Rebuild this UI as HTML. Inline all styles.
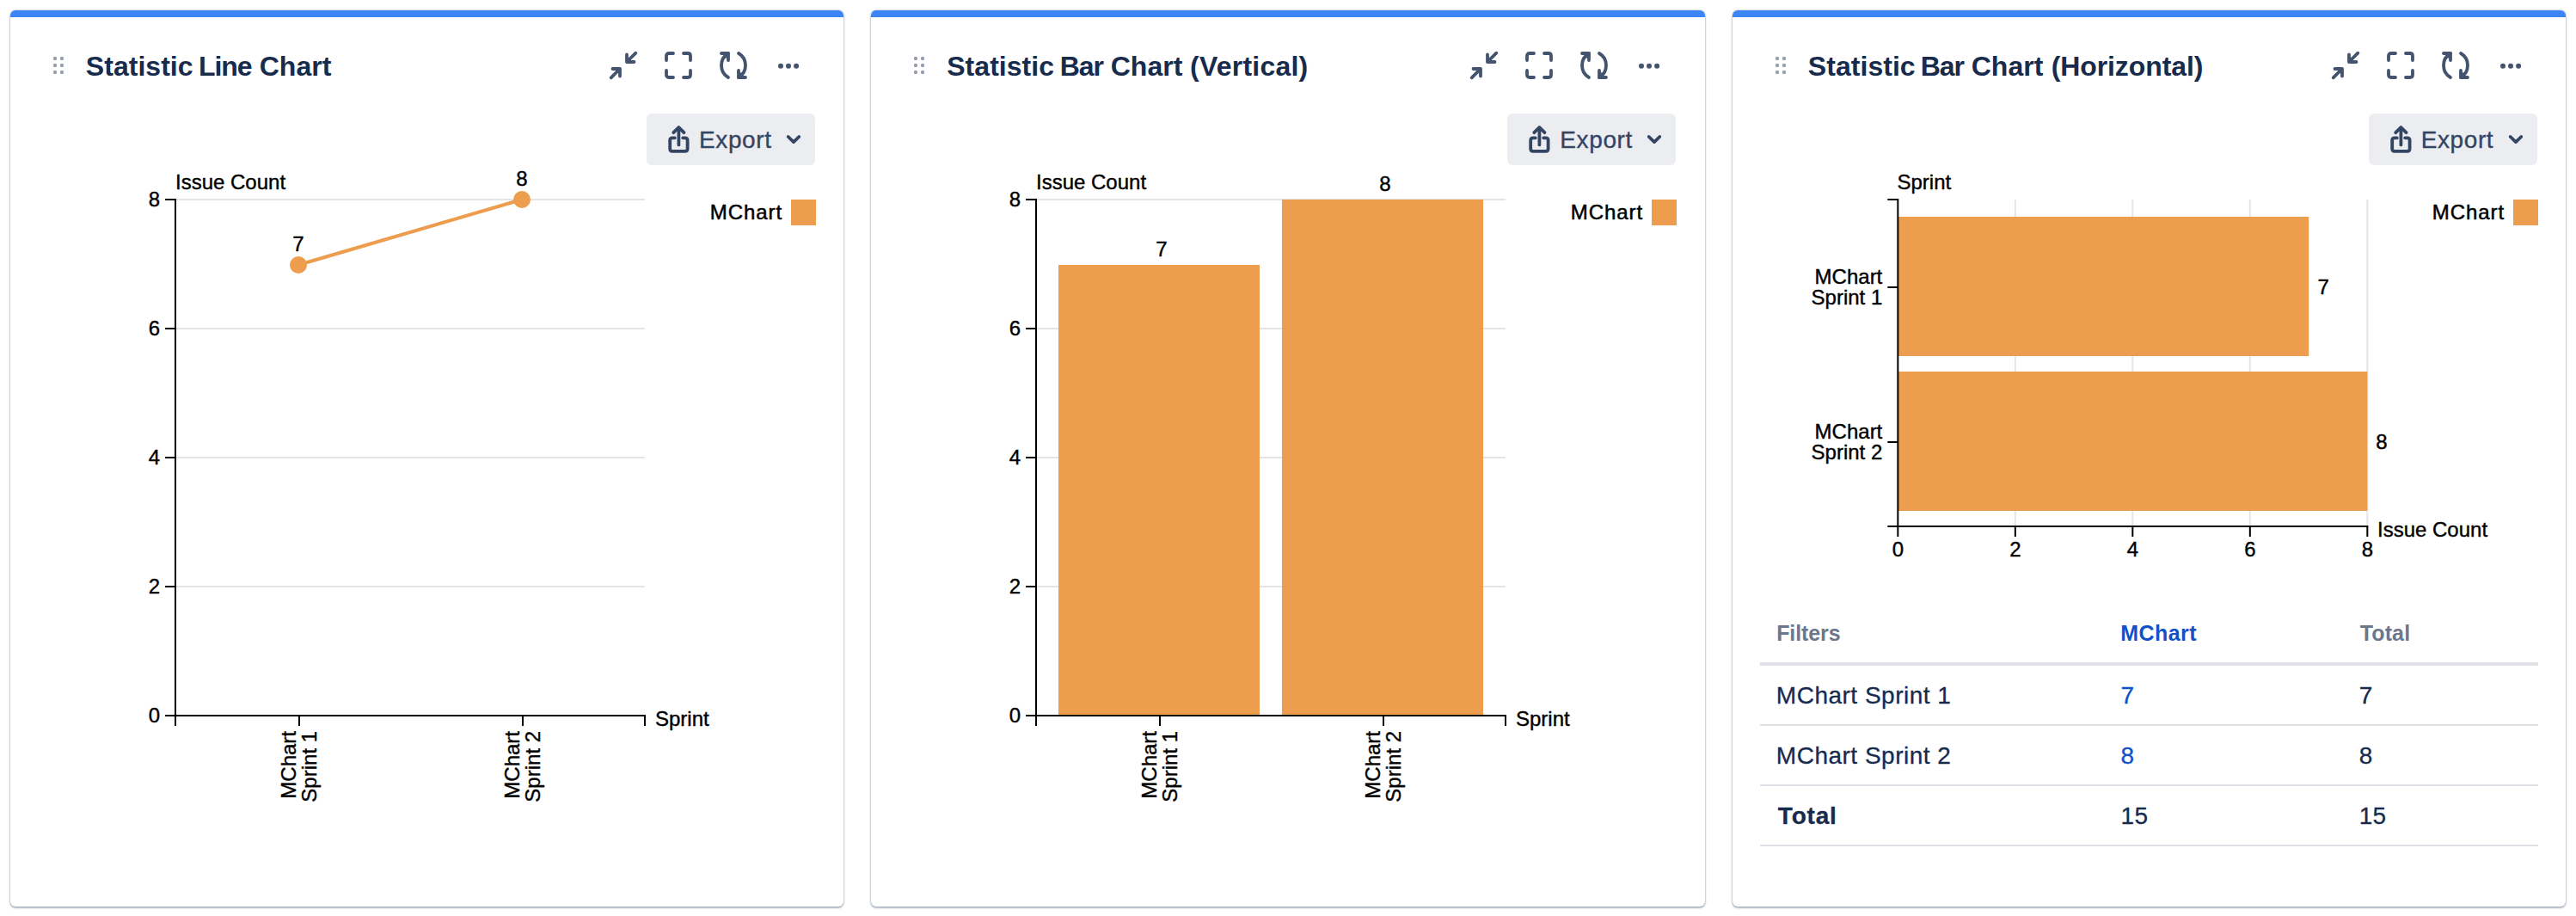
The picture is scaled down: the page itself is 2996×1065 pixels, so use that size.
<!DOCTYPE html><html><head><meta charset="utf-8"><title>Dashboard</title><style>
html,body{margin:0;padding:0;background:#fff;}
body{width:2996px;height:1065px;position:relative;overflow:hidden;font-family:"Liberation Sans",sans-serif;}
.card{position:absolute;top:12px;width:969.33px;height:1042px;background:#fff;border-radius:6px;box-shadow:0 2px 2px rgba(9,30,66,.25),0 0 2.5px rgba(9,30,66,.42);}
.bar{position:absolute;left:0;top:0;right:0;height:8px;background:#3D84F5;border-radius:6px 6px 0 0;}
.in{position:absolute;left:-12px;top:-12px;width:1000px;height:1065px;}
.title{position:absolute;left:0;top:56.6px;height:40px;line-height:40px;font-size:32px;font-weight:700;color:#172B4D;white-space:nowrap;}
.title span{position:absolute;top:0;}
.exp{position:absolute;left:752px;top:132px;width:196px;height:60px;background:#ECEDF1;border-radius:6px;}
.exp span{-webkit-text-stroke:.35px;position:absolute;left:61px;top:10.5px;height:40px;line-height:40px;font-size:28px;color:#344563;letter-spacing:.6px;}
svg{position:absolute;left:0;top:0;overflow:visible;}
svg text{font-family:"Liberation Sans",sans-serif;}
.ct text{font-size:24px;fill:#000;stroke:#000;stroke-width:.4px;}
.tb{position:absolute;-webkit-text-stroke:.3px;font-size:28px;line-height:40px;height:40px;color:#172B4D;white-space:nowrap;letter-spacing:.3px;}
.th{position:absolute;font-size:25px;line-height:32px;height:32px;font-weight:700;color:#6B778C;white-space:nowrap;letter-spacing:.2px;}
.ln{position:absolute;left:44.3px;width:905px;height:2px;background:#DFE1E6;}
.bl{color:#0F52C8;}
</style></head><body><div class="card" style="left:12.00px"><div class="bar"></div><div class="in"><div class="title"><span style="left:99.8px;letter-spacing:0.04px">Statistic</span> <span style="left:230.9px;letter-spacing:-1.03px">Line</span> <span style="left:301.7px;letter-spacing:0.07px">Chart</span></div><div class="exp"><span>Export</span></div><svg width="1000" height="1065" viewBox="0 0 1000 1065"><g fill="#97A0AF"><circle cx="64" cy="68" r="2.2"/><circle cx="64" cy="76" r="2.2"/><circle cx="64" cy="84" r="2.2"/><circle cx="72" cy="68" r="2.2"/><circle cx="72" cy="76" r="2.2"/><circle cx="72" cy="84" r="2.2"/></g><g transform="translate(709,60)" fill="none" stroke="#44546F" stroke-width="3.8" stroke-linecap="round" stroke-linejoin="round"><path d="M20 3.5V12H28.5M20 12L30.3 1.7"/><path d="M21.2 7.5V10.8H24.5Z" fill="#44546F" stroke-width="2"/><path d="M3.5 20H12V28.5M12 20L1.7 30.3"/><path d="M7.5 21.2H10.8V24.5Z" fill="#44546F" stroke-width="2"/></g><g transform="translate(773,60)" fill="none" stroke="#44546F" stroke-width="3.8" stroke-linecap="round" stroke-linejoin="round"><path d="M2 10V5Q2 2 5 2H10"/><path d="M22 2H27Q30 2 30 5V10"/><path d="M30 22V27Q30 30 27 30H22"/><path d="M10 30H5Q2 30 2 27V22"/></g><g transform="translate(837,60)" fill="none" stroke="#44546F" stroke-width="3.8" stroke-linecap="round" stroke-linejoin="round"><path d="M2 2H10V10"/><path d="M10 2A16.25 16.25 0 0 0 10 30"/><path d="M8.6 3.4V6.5H5.5Z" fill="#44546F" stroke-width="2"/><path d="M30 30H22V22"/><path d="M22 30A16.25 16.25 0 0 0 22 2"/><path d="M23.4 28.6V25.5H26.5Z" fill="#44546F" stroke-width="2"/></g><g fill="#44546F"><circle cx="908" cy="76.7" r="3"/><circle cx="917" cy="76.7" r="3"/><circle cx="926.1" cy="76.7" r="3"/></g><g transform="translate(777,145)" fill="none" stroke="#344563" stroke-width="3.8" stroke-linecap="round" stroke-linejoin="round"><path d="M7.8 15.3H5Q2.2 15.3 2.2 18V28Q2.2 30.8 5 30.8H19.8Q22.6 30.8 22.6 28V18Q22.6 15.3 19.8 15.3H17.2"/><path d="M12.4 23.4V3.2M6.3 9.2L12.4 3L18.5 9.2"/></g><path d="M916.7 159L923 165.1L929.3 159" fill="none" stroke="#344563" stroke-width="3.8" stroke-linecap="round" stroke-linejoin="round"/><rect x="920" y="232" width="29" height="30" fill="#ED9D4E"/><text x="910.1" y="255" text-anchor="end" style="font-size:24px;letter-spacing:.93px" fill="#000" stroke="#000" stroke-width=".5">MChart</text><g class="ct"><rect x="205" y="231" width="545" height="2" fill="#E5E5E5"/><rect x="205" y="381" width="545" height="2" fill="#E5E5E5"/><rect x="205" y="531" width="545" height="2" fill="#E5E5E5"/><rect x="205" y="681" width="545" height="2" fill="#E5E5E5"/><rect x="203" y="231" width="2" height="602" fill="#000"/><rect x="192" y="231" width="12" height="2" fill="#000"/><text x="186" y="239.8" text-anchor="end">8</text><rect x="192" y="381" width="12" height="2" fill="#000"/><text x="186" y="389.8" text-anchor="end">6</text><rect x="192" y="531" width="12" height="2" fill="#000"/><text x="186" y="539.8" text-anchor="end">4</text><rect x="192" y="681" width="12" height="2" fill="#000"/><text x="186" y="689.8" text-anchor="end">2</text><rect x="192" y="831" width="12" height="2" fill="#000"/><text x="186" y="839.8" text-anchor="end">0</text><rect x="203" y="831" width="548" height="2" fill="#000"/><rect x="203" y="832" width="2" height="12" fill="#000"/><rect x="347" y="832" width="2" height="12" fill="#000"/><rect x="607" y="832" width="2" height="12" fill="#000"/><rect x="749" y="832" width="2" height="12" fill="#000"/><text transform="translate(348,850) rotate(-90)" text-anchor="end"><tspan x="0" y="-3.7">MChart</tspan><tspan x="0" y="19.8">Sprint 1</tspan></text><text transform="translate(608,850) rotate(-90)" text-anchor="end"><tspan x="0" y="-3.7">MChart</tspan><tspan x="0" y="19.8">Sprint 2</tspan></text><text x="204" y="220">Issue Count</text><text x="762" y="844">Sprint</text><path d="M347 308L607 232" stroke="#ED9D4E" stroke-width="4" fill="none"/><circle cx="347" cy="308" r="10" fill="#ED9D4E"/><circle cx="607" cy="232" r="10" fill="#ED9D4E"/><text x="347" y="292" text-anchor="middle">7</text><text x="607" y="216" text-anchor="middle">8</text></g></svg></div></div><div class="card" style="left:1013.33px"><div class="bar"></div><div class="in"><div class="title"><span style="left:99.9px;letter-spacing:0.04px">Statistic</span> <span style="left:231.4px;letter-spacing:-1.1px">Bar</span> <span style="left:290.3px;letter-spacing:0.07px">Chart</span> <span style="left:382.7px;letter-spacing:0.23px">(Vertical)</span></div><div class="exp"><span>Export</span></div><svg width="1000" height="1065" viewBox="0 0 1000 1065"><g fill="#97A0AF"><circle cx="64" cy="68" r="2.2"/><circle cx="64" cy="76" r="2.2"/><circle cx="64" cy="84" r="2.2"/><circle cx="72" cy="68" r="2.2"/><circle cx="72" cy="76" r="2.2"/><circle cx="72" cy="84" r="2.2"/></g><g transform="translate(709,60)" fill="none" stroke="#44546F" stroke-width="3.8" stroke-linecap="round" stroke-linejoin="round"><path d="M20 3.5V12H28.5M20 12L30.3 1.7"/><path d="M21.2 7.5V10.8H24.5Z" fill="#44546F" stroke-width="2"/><path d="M3.5 20H12V28.5M12 20L1.7 30.3"/><path d="M7.5 21.2H10.8V24.5Z" fill="#44546F" stroke-width="2"/></g><g transform="translate(773,60)" fill="none" stroke="#44546F" stroke-width="3.8" stroke-linecap="round" stroke-linejoin="round"><path d="M2 10V5Q2 2 5 2H10"/><path d="M22 2H27Q30 2 30 5V10"/><path d="M30 22V27Q30 30 27 30H22"/><path d="M10 30H5Q2 30 2 27V22"/></g><g transform="translate(837,60)" fill="none" stroke="#44546F" stroke-width="3.8" stroke-linecap="round" stroke-linejoin="round"><path d="M2 2H10V10"/><path d="M10 2A16.25 16.25 0 0 0 10 30"/><path d="M8.6 3.4V6.5H5.5Z" fill="#44546F" stroke-width="2"/><path d="M30 30H22V22"/><path d="M22 30A16.25 16.25 0 0 0 22 2"/><path d="M23.4 28.6V25.5H26.5Z" fill="#44546F" stroke-width="2"/></g><g fill="#44546F"><circle cx="908" cy="76.7" r="3"/><circle cx="917" cy="76.7" r="3"/><circle cx="926.1" cy="76.7" r="3"/></g><g transform="translate(777,145)" fill="none" stroke="#344563" stroke-width="3.8" stroke-linecap="round" stroke-linejoin="round"><path d="M7.8 15.3H5Q2.2 15.3 2.2 18V28Q2.2 30.8 5 30.8H19.8Q22.6 30.8 22.6 28V18Q22.6 15.3 19.8 15.3H17.2"/><path d="M12.4 23.4V3.2M6.3 9.2L12.4 3L18.5 9.2"/></g><path d="M916.7 159L923 165.1L929.3 159" fill="none" stroke="#344563" stroke-width="3.8" stroke-linecap="round" stroke-linejoin="round"/><rect x="920" y="232" width="29" height="30" fill="#ED9D4E"/><text x="910.1" y="255" text-anchor="end" style="font-size:24px;letter-spacing:.93px" fill="#000" stroke="#000" stroke-width=".5">MChart</text><g class="ct"><rect x="205" y="231" width="545" height="2" fill="#E5E5E5"/><rect x="205" y="381" width="545" height="2" fill="#E5E5E5"/><rect x="205" y="531" width="545" height="2" fill="#E5E5E5"/><rect x="205" y="681" width="545" height="2" fill="#E5E5E5"/><rect x="230" y="308" width="234" height="524" fill="#ED9D4E"/><rect x="490" y="232" width="234" height="600" fill="#ED9D4E"/><rect x="203" y="231" width="2" height="602" fill="#000"/><rect x="192" y="231" width="12" height="2" fill="#000"/><text x="186" y="239.8" text-anchor="end">8</text><rect x="192" y="381" width="12" height="2" fill="#000"/><text x="186" y="389.8" text-anchor="end">6</text><rect x="192" y="531" width="12" height="2" fill="#000"/><text x="186" y="539.8" text-anchor="end">4</text><rect x="192" y="681" width="12" height="2" fill="#000"/><text x="186" y="689.8" text-anchor="end">2</text><rect x="192" y="831" width="12" height="2" fill="#000"/><text x="186" y="839.8" text-anchor="end">0</text><rect x="203" y="831" width="548" height="2" fill="#000"/><rect x="203" y="832" width="2" height="12" fill="#000"/><rect x="347" y="832" width="2" height="12" fill="#000"/><rect x="607" y="832" width="2" height="12" fill="#000"/><rect x="749" y="832" width="2" height="12" fill="#000"/><text transform="translate(348,850) rotate(-90)" text-anchor="end"><tspan x="0" y="-3.7">MChart</tspan><tspan x="0" y="19.8">Sprint 1</tspan></text><text transform="translate(608,850) rotate(-90)" text-anchor="end"><tspan x="0" y="-3.7">MChart</tspan><tspan x="0" y="19.8">Sprint 2</tspan></text><text x="204" y="220">Issue Count</text><text x="762" y="844">Sprint</text><text x="350" y="298" text-anchor="middle">7</text><text x="610" y="222" text-anchor="middle">8</text></g></svg></div></div><div class="card" style="left:2014.67px"><div class="bar"></div><div class="in"><div class="title"><span style="left:100.2px;letter-spacing:0.04px">Statistic</span> <span style="left:231.1px;letter-spacing:-1.1px">Bar</span> <span style="left:290px;letter-spacing:0.07px">Chart</span> <span style="left:383px;letter-spacing:-0.09px">(Horizontal)</span></div><div class="exp"><span>Export</span></div><svg width="1000" height="1065" viewBox="0 0 1000 1065"><g fill="#97A0AF"><circle cx="64" cy="68" r="2.2"/><circle cx="64" cy="76" r="2.2"/><circle cx="64" cy="84" r="2.2"/><circle cx="72" cy="68" r="2.2"/><circle cx="72" cy="76" r="2.2"/><circle cx="72" cy="84" r="2.2"/></g><g transform="translate(709,60)" fill="none" stroke="#44546F" stroke-width="3.8" stroke-linecap="round" stroke-linejoin="round"><path d="M20 3.5V12H28.5M20 12L30.3 1.7"/><path d="M21.2 7.5V10.8H24.5Z" fill="#44546F" stroke-width="2"/><path d="M3.5 20H12V28.5M12 20L1.7 30.3"/><path d="M7.5 21.2H10.8V24.5Z" fill="#44546F" stroke-width="2"/></g><g transform="translate(773,60)" fill="none" stroke="#44546F" stroke-width="3.8" stroke-linecap="round" stroke-linejoin="round"><path d="M2 10V5Q2 2 5 2H10"/><path d="M22 2H27Q30 2 30 5V10"/><path d="M30 22V27Q30 30 27 30H22"/><path d="M10 30H5Q2 30 2 27V22"/></g><g transform="translate(837,60)" fill="none" stroke="#44546F" stroke-width="3.8" stroke-linecap="round" stroke-linejoin="round"><path d="M2 2H10V10"/><path d="M10 2A16.25 16.25 0 0 0 10 30"/><path d="M8.6 3.4V6.5H5.5Z" fill="#44546F" stroke-width="2"/><path d="M30 30H22V22"/><path d="M22 30A16.25 16.25 0 0 0 22 2"/><path d="M23.4 28.6V25.5H26.5Z" fill="#44546F" stroke-width="2"/></g><g fill="#44546F"><circle cx="908" cy="76.7" r="3"/><circle cx="917" cy="76.7" r="3"/><circle cx="926.1" cy="76.7" r="3"/></g><g transform="translate(777,145)" fill="none" stroke="#344563" stroke-width="3.8" stroke-linecap="round" stroke-linejoin="round"><path d="M7.8 15.3H5Q2.2 15.3 2.2 18V28Q2.2 30.8 5 30.8H19.8Q22.6 30.8 22.6 28V18Q22.6 15.3 19.8 15.3H17.2"/><path d="M12.4 23.4V3.2M6.3 9.2L12.4 3L18.5 9.2"/></g><path d="M916.7 159L923 165.1L929.3 159" fill="none" stroke="#344563" stroke-width="3.8" stroke-linecap="round" stroke-linejoin="round"/><rect x="920" y="232" width="29" height="30" fill="#ED9D4E"/><text x="910.1" y="255" text-anchor="end" style="font-size:24px;letter-spacing:.93px" fill="#000" stroke="#000" stroke-width=".5">MChart</text><g class="ct"><rect x="339.83" y="232" width="2" height="380" fill="#E5E5E5"/><rect x="476.33" y="232" width="2" height="380" fill="#E5E5E5"/><rect x="612.83" y="232" width="2" height="380" fill="#E5E5E5"/><rect x="749.33" y="232" width="2" height="380" fill="#E5E5E5"/><rect x="205" y="252" width="477.2" height="162" fill="#ED9D4E"/><rect x="205" y="432" width="545.3" height="162" fill="#ED9D4E"/><rect x="203.33" y="231" width="2" height="382" fill="#000"/><rect x="192.33" y="231" width="12" height="2" fill="#000"/><rect x="192.33" y="611" width="12" height="2" fill="#000"/><rect x="192.33" y="333" width="12" height="2" fill="#000"/><text x="186.3" y="330" text-anchor="end">MChart</text><text x="186.3" y="354" text-anchor="end">Sprint 1</text><rect x="192.33" y="513" width="12" height="2" fill="#000"/><text x="186.3" y="510" text-anchor="end">MChart</text><text x="186.3" y="534" text-anchor="end">Sprint 2</text><rect x="203.33" y="611" width="548" height="2" fill="#000"/><rect x="203.33" y="612" width="2" height="12" fill="#000"/><text x="204.33" y="646.5" text-anchor="middle">0</text><rect x="339.83" y="612" width="2" height="12" fill="#000"/><text x="340.83" y="646.5" text-anchor="middle">2</text><rect x="476.33" y="612" width="2" height="12" fill="#000"/><text x="477.33" y="646.5" text-anchor="middle">4</text><rect x="612.83" y="612" width="2" height="12" fill="#000"/><text x="613.83" y="646.5" text-anchor="middle">6</text><rect x="749.33" y="612" width="2" height="12" fill="#000"/><text x="750.33" y="646.5" text-anchor="middle">8</text><text x="203.5" y="220">Sprint</text><text x="762" y="624">Issue Count</text><text x="692.5" y="342">7</text><text x="760.3" y="522">8</text></g></svg><div class="th" style="left:63.5px;top:720px;letter-spacing:-.1px">Filters</div><div class="th bl" style="left:463.6px;top:720px;letter-spacing:.45px">MChart</div><div class="th" style="left:742px;top:720px;letter-spacing:.15px">Total</div><div class="ln" style="top:770px;height:4px"></div><div class="tb" style="left:63.2px;top:788.7px;letter-spacing:.5px">MChart Sprint 1</div><div class="tb bl" style="left:463.9px;top:788.7px">7</div><div class="tb" style="left:741px;top:788.7px">7</div><div class="ln" style="top:842px"></div><div class="tb" style="left:63.2px;top:858.7px;letter-spacing:.5px">MChart Sprint 2</div><div class="tb bl" style="left:463.9px;top:858.7px">8</div><div class="tb" style="left:741px;top:858.7px">8</div><div class="ln" style="top:912px"></div><div class="tb" style="left:65.2px;top:928.7px;font-weight:700;letter-spacing:.8px">Total</div><div class="tb" style="left:463.9px;top:928.7px">15</div><div class="tb" style="left:741px;top:928.7px">15</div><div class="ln" style="top:982px"></div></div></div></body></html>
